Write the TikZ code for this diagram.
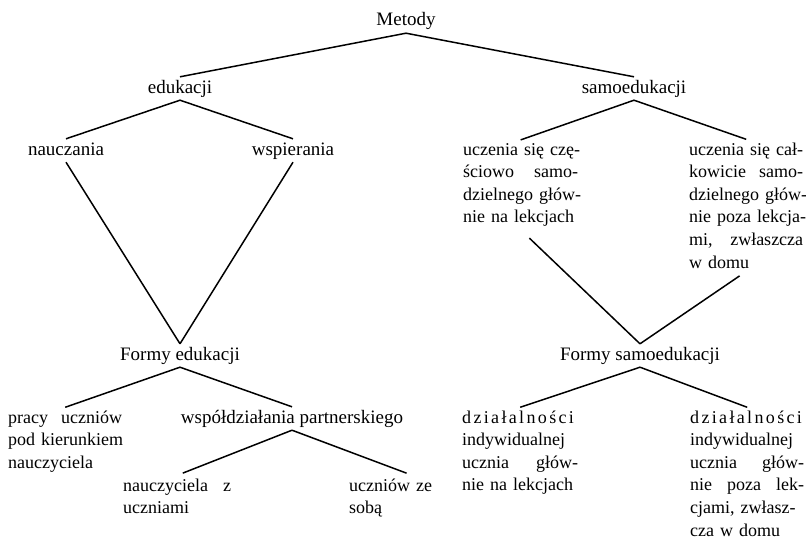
\documentclass[tikz,border=0pt]{standalone}
\usepackage{fontspec}
\setmainfont{Liberation Serif}
\usetikzlibrary{calc}

\newcommand{\rozstrzel}[1]{{\addfontfeature{LetterSpace=13}#1}}
\newcommand{\pelny}[1]{\leavevmode\hbox to \linewidth{#1}}

\begin{document}
\begin{tikzpicture}[x=1pt, y=-1pt]
    \tikzstyle{word} = [inner xsep=0pt, inner ysep=3pt, anchor=base,
        text height=13pt, text depth=4pt, font=\fontsize{19}{22.6}\selectfont]
    \tikzstyle{block} = [inner xsep=0pt, inner ysep=3pt, anchor=base west,
        align=left, font=\fontsize{18}{22.6}\selectfont]
    \tikzstyle{branch} = [line width=1.5pt]

    \useasboundingbox (0, 0) rectangle (806, 543);

    % Metody ---------------------------------------------
    \node (metody) at (406, 26) [word] {Metody};
    \node (edu) at (180, 93) [word] {edukacji};
    \node (samo) at (634, 93) [word] {samoedukacji};

    % edukacja -------------------------------------------
    \node (naucz) at (66, 155) [word] {nauczania};
    \node (wspier) at (293, 155) [word] {wspierania};
    \node (formy_edu) at (180, 360) [word] {Formy edukacji};

    \node (pracy) at (8, 423) [block, text width=114pt]
        {\pelny{pracy\hfill uczniów}\\ \pelny{pod kierunkiem\hfil}\\ nauczyciela};
    \node (wspol) at (292, 423) [word] {współdziałania partnerskiego};
    \node (naucz_z) at (123, 491) [block, text width=108pt]
        {\pelny{nauczyciela\hfill z}\\ uczniami};
    \node (ucz_ze) at (349, 491) [block, text width=126pt]
        {uczniów ze\\ sobą};
    % ---------------------------------------------------

    % samoedukacja ---------------------------------------
    \node (czesc) at (463, 155) [block, text width=115pt]
        {\pelny{uczenia się czę-}\\ \pelny{ściowo\hfill samo-}\\
         \pelny{dzielnego głów-}\\ \pelny{nie na lekcjach\hfil}};
    \node (calk) at (689, 155) [block, text width=114pt]
        {\pelny{uczenia się cał-}\\ \pelny{kowicie\hfill samo-}\\
         \pelny{dzielnego głów-}\\ \pelny{nie poza lekcja-}\\
         \pelny{mi,\hfill zwłaszcza}\\ w domu};
    \node (formy_samo) at (640, 360) [word] {Formy samoedukacji};

    \node (dzial_1) at (462, 423) [block, text width=116pt]
        {\rozstrzel{działalności}\\ indywidualnej\\
         \pelny{ucznia\hfill głów-}\\ \pelny{nie na lekcjach\hfil}};
    \node (dzial_2) at (690, 423) [block, text width=114pt]
        {\rozstrzel{działalności}\\ indywidualnej\\
         \pelny{ucznia\hfill głów-}\\ \pelny{nie\hfill poza\hfill lek-}\\
         \pelny{cjami, zwłasz-\hfil}\\ cza w domu};
    % ---------------------------------------------------

    % Branches
    \draw [branch] (metody.south) -- (edu.north);
    \draw [branch] (metody.south) -- (samo.north);

    \draw [branch] (edu.south) -- (naucz.north);
    \draw [branch] (edu.south) -- (wspier.north);
    \draw [branch] (naucz.south) -- (formy_edu.north);
    \draw [branch] (wspier.south) -- (formy_edu.north);

    \draw [branch] (formy_edu.south) -- (pracy.north);
    \draw [branch] (formy_edu.south) -- (wspol.north);
    \draw [branch, shorten >=6pt] (wspol.south) -- (naucz_z.north);
    \draw [branch, shorten >=6pt] (wspol.south) -- (ucz_ze.north);

    \draw [branch] (samo.south) -- (czesc.north);
    \draw [branch] (samo.south) -- (calk.north);
    \draw [branch, shorten <=12pt] (czesc.south) -- (formy_samo.north);
    \draw [branch, shorten <=8pt] (calk.south) -- (formy_samo.north);

    \draw [branch] (formy_samo.south) -- (dzial_1.north);
    \draw [branch] (formy_samo.south) -- (dzial_2.north);
\end{tikzpicture}
\end{document}
